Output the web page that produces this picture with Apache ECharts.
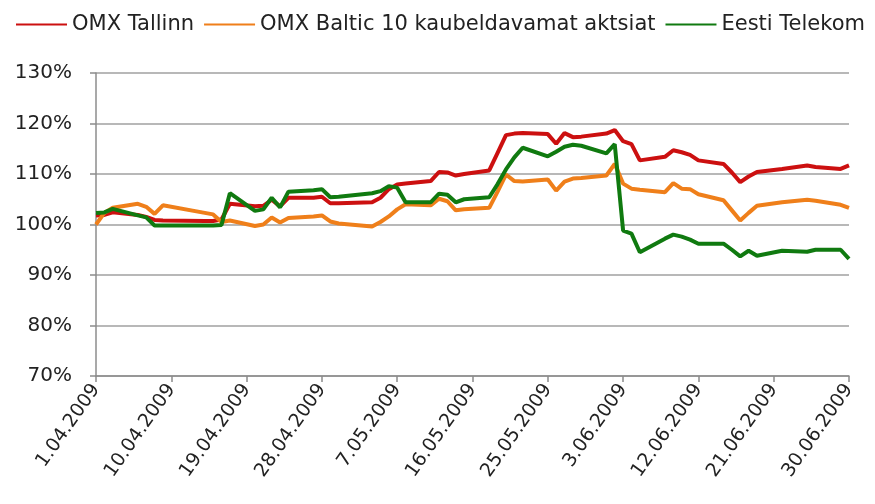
<!DOCTYPE html>
<html>
<head>
    <meta charset="utf-8">
    <title>ECharts</title>
    <script src="https://cdn.jsdelivr.net/npm/echarts@6/dist/echarts.min.js"></script>
</head>
<body style="margin:0;background:#fff;">
    <div id="main" style="width: 875px;height:504px;"></div>
    <script type="text/javascript">
    // kauplemispäevad
    var dates = [
        '2009-04-01','2009-04-02','2009-04-03','2009-04-06','2009-04-07','2009-04-08','2009-04-09',
        '2009-04-14','2009-04-15','2009-04-16','2009-04-17','2009-04-20','2009-04-21','2009-04-22',
        '2009-04-23','2009-04-24','2009-04-27','2009-04-28','2009-04-29','2009-04-30',
        '2009-05-04','2009-05-05','2009-05-06','2009-05-07','2009-05-08','2009-05-11','2009-05-12',
        '2009-05-13','2009-05-14','2009-05-15','2009-05-18','2009-05-19','2009-05-20','2009-05-21',
        '2009-05-22','2009-05-25','2009-05-26','2009-05-27','2009-05-28','2009-05-29',
        '2009-06-01','2009-06-02','2009-06-03','2009-06-04','2009-06-05','2009-06-08','2009-06-09',
        '2009-06-10','2009-06-11','2009-06-12','2009-06-15','2009-06-16','2009-06-17','2009-06-18',
        '2009-06-19','2009-06-22','2009-06-25','2009-06-26','2009-06-29','2009-06-30'
    ];
    var seriesNames = ['OMX Tallinn', 'OMX Baltic 10 kaubeldavamat aktsiat', 'Eesti Telekom'];
    var omxTallinn = [
        101.8, 101.9, 102.4, 101.9, 101.5, 100.9, 100.8,
        100.7, 100.7, 101.0, 104.1, 103.6, 103.7, 104.9,
        103.6, 105.3, 105.3, 105.5, 104.2, 104.2,
        104.4, 105.3, 107.0, 107.9, 108.1, 108.6, 110.4,
        110.3, 109.7, 110.0, 110.7, 114.2, 117.7, 118.0,
        118.1, 117.9, 116.0, 118.1, 117.3, 117.4,
        118.0, 118.7, 116.5, 115.9, 112.7, 113.4, 114.7,
        114.3, 113.8, 112.7, 112.0, 110.3, 108.4, 109.5,
        110.4, 111.0, 111.7, 111.4, 111.0, 111.7
    ];
    var omxBaltic = [
        100.0, 102.3, 103.3, 104.1, 103.5, 102.1, 103.8,
        102.3, 102.0, 100.5, 100.8, 99.7, 100.0, 101.4,
        100.4, 101.3, 101.6, 101.8, 100.6, 100.2,
        99.6, 100.5, 101.6, 103.0, 104.0, 103.8, 105.1,
        104.6, 102.8, 103.0, 103.3, 106.5, 109.9, 108.6,
        108.5, 108.9, 106.7, 108.5, 109.1, 109.2,
        109.7, 112.0, 108.1, 107.1, 106.9, 106.4, 108.2,
        107.1, 107.0, 106.0, 104.8, 102.8, 100.8, 102.3,
        103.7, 104.4, 104.9, 104.7, 103.9, 103.3
    ];
    var eestiTelekom = [
        102.3, 102.4, 103.1, 101.8, 101.4, 99.8, 99.8,
        99.8, 99.8, 99.9, 106.2, 102.7, 103.0, 105.3,
        103.4, 106.5, 106.8, 107.0, 105.4, 105.5,
        106.2, 106.6, 107.6, 107.3, 104.4, 104.4, 106.1,
        105.9, 104.4, 105.0, 105.4, 108.0, 110.9, 113.3,
        115.2, 113.5, 114.4, 115.4, 115.8, 115.6,
        114.1, 115.9, 98.8, 98.2, 94.5, 97.2, 98.0,
        97.6, 97.0, 96.2, 96.2, 95.0, 93.7, 94.8,
        93.8, 94.8, 94.6, 95.0, 95.0, 93.2
    ];
    var colors = ['#cc1010', '#ef7f1a', '#107a10'];

    var DAY = 86400000;
    var start = Date.UTC(2009, 3, 1);
    function dayOffset(s) {
        var p = s.split('-');
        return Math.round((Date.UTC(+p[0], +p[1] - 1, +p[2]) - start) / DAY);
    }
    function pairs(vals) {
        return vals.map(function (v, i) { return [dayOffset(dates[i]), v]; });
    }
    function fmtDate(off) {
        var d = new Date(start + off * DAY);
        var m = d.getUTCMonth() + 1;
        return d.getUTCDate() + '.' + (m < 10 ? '0' + m : m) + '.' + d.getUTCFullYear();
    }

    var myChart = echarts.init(document.getElementById('main'));
    var font = 'DejaVu Sans';
    var option = {
        animation: false,
        color: colors,
        textStyle: { fontFamily: font },
        legend: {
            top: 9,
            left: 11,
            icon: 'rect',
            itemWidth: 51,
            itemHeight: 2,
            itemGap: 10,
            textStyle: { fontFamily: font, fontSize: 21, color: '#222' },
            data: seriesNames
        },
        grid: { left: 96, right: 26, top: 73, bottom: 128 },
        xAxis: {
            type: 'value',
            min: 0,
            max: 90,
            interval: 9,
            axisLine: { lineStyle: { color: '#8c8c8c', width: 1.5 } },
            axisTick: { show: true, length: 6, lineStyle: { color: '#8c8c8c', width: 1.5 } },
            splitLine: { show: false },
            axisLabel: {
                rotate: 55,
                fontFamily: font,
                fontSize: 19,
                color: '#222',
                margin: 10,
                formatter: function (v) { return fmtDate(v); }
            }
        },
        yAxis: {
            type: 'value',
            min: 70,
            max: 130,
            interval: 10,
            axisLine: { show: true, lineStyle: { color: '#8c8c8c', width: 1.5 } },
            axisTick: { show: true, length: 6, lineStyle: { color: '#8c8c8c', width: 1.5 } },
            splitLine: { lineStyle: { color: '#a0a0a0', width: 1.5 } },
            axisLabel: {
                fontFamily: font,
                fontSize: 20,
                color: '#222',
                margin: 24,
                formatter: '{value}%'
            }
        },
        series: [
            { name: seriesNames[0], type: 'line', data: pairs(omxTallinn) },
            { name: seriesNames[1], type: 'line', data: pairs(omxBaltic) },
            { name: seriesNames[2], type: 'line', data: pairs(eestiTelekom) }
        ].map(function (s) {
            s.symbol = 'none';
            s.lineStyle = { width: 4 };
            return s;
        })
    };
    myChart.setOption(option);
    </script>
</body>
</html>
